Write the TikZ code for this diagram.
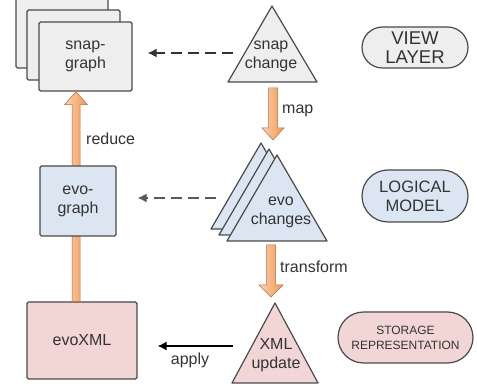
\documentclass[tikz,border=0pt]{standalone}
\usepackage{fontspec}
\setmainfont{Liberation Sans}
\usetikzlibrary{arrows.meta,calc,shapes.misc}
\definecolor{boxgray}{HTML}{EEEEEE}
\definecolor{boxblue}{HTML}{DCE6F2}
\definecolor{boxpink}{HTML}{F2D6D6}
\definecolor{edgec}{HTML}{4A4A4A}
\definecolor{textc}{HTML}{333333}
\definecolor{orangeL}{HTML}{FAD0B0}
\definecolor{orangeR}{HTML}{F09850}
\definecolor{orangeE}{HTML}{B87040}
\begin{document}
\begin{tikzpicture}[x=1pt,y=-1pt,
  box/.style={draw=edgec,line width=1.3pt,rounded corners=1.5pt,inner sep=0pt,align=center,
    text=textc,font=\fontsize{16}{19}\selectfont},
  tri/.style={draw=edgec,line width=1.2pt,line join=round},
  label/.style={inner sep=0pt,align=center,text=textc,font=\fontsize{16}{19}\selectfont},
  pill/.style={draw=edgec,line width=1.2pt,rounded rectangle,inner sep=0pt,align=center,
    text=textc,font=\fontsize{16.5}{19}\selectfont},
  blockarrow/.style={draw=orangeE,line width=0.5pt,left color=orangeL,right color=orangeR,shading angle=90},
  dasharrow/.style={draw=black!80,line width=1.3pt,dash pattern=on 11pt off 6pt,-{Latex[length=9pt,width=9pt]}},
  solidarrow/.style={draw=black,line width=1.2pt,-{Latex[length=9pt,width=9pt]}}]
\useasboundingbox (0,0) rectangle (477,387);
\fill[white] (0,0) rectangle (477,387);

% snap-graph stack
\node[box,fill=boxgray,minimum width=92pt,minimum height=70pt] (sg3) at (62,33) {};
\node[box,fill=boxgray,minimum width=93pt,minimum height=70pt] (sg2) at (73.5,45) {};
\node[box,fill=boxgray,minimum width=93pt,minimum height=69pt] (sg) at (85.5,56.5) {snap-\\graph};

% evoXML
\node[box,fill=boxpink,minimum width=110pt,minimum height=77pt] (evoxml) at (82,340.5) {evoXML};

% reduce block arrow (evoXML -> snap-graph)
\path (evoxml.north) ++(-6,0) coordinate (ra);
\path (sg.south) ++(-9.5,0) coordinate (rt);
\path[blockarrow] ($(ra)+(-4,0)$) -- ($(rt)+(-4,13)$) -- ($(rt)+(-11.5,13)$) -- (rt)
  -- ($(rt)+(11.5,13)$) -- ($(rt)+(4,13)$) -- ($(ra)+(4,0)$) -- cycle;

% evo-graph (on top of the arrow)
\node[box,fill=boxblue,minimum width=76pt,minimum height=70pt] (eg) at (78,201) {evo-\\graph};

\node[label,anchor=west] (lreduce) at (86,139) {reduce};

% snap change triangle
\path[tri,fill=boxgray] (272,6) -- (317,82) -- (228,82) -- cycle;
\node[label] (sc) at (271,56) {snap\\change};

% evo changes triangles
\path[tri,fill=boxblue] (261,143) -- (311,229) -- (211,229) -- cycle;
\path[tri,fill=boxblue] (269,149) -- (319,235) -- (219,235) -- cycle;
\path[tri,fill=boxblue] (277,155) -- (327,241) -- (227,241) -- cycle;
\node[label] (ec) at (281,212) {evo\\changes};

% XML update triangle
\path[tri,fill=boxpink] (275,303) -- (318,383) -- (232,383) -- cycle;
\node[label] (xu) at (276,355) {XML\\update};

% map block arrow
\coordinate (ma) at (273,88);
\coordinate (mt) at (273,140);
\path[blockarrow] ($(ma)+(-4.5,0)$) -- ($(mt)+(-4.5,-12)$) -- ($(mt)+(-11,-12)$) -- (mt)
  -- ($(mt)+(11,-12)$) -- ($(mt)+(4.5,-12)$) -- ($(ma)+(4.5,0)$) -- cycle;
\node[label,anchor=west] (lmap) at (282,111) {map};

% transform block arrow
\coordinate (ta) at (271,245);
\coordinate (tt) at (271,297);
\path[blockarrow] ($(ta)+(-4.5,0)$) -- ($(tt)+(-4.5,-12)$) -- ($(tt)+(-12,-12)$) -- (tt)
  -- ($(tt)+(12,-12)$) -- ($(tt)+(4.5,-12)$) -- ($(ta)+(4.5,0)$) -- cycle;
\node[label,anchor=west] (ltransform) at (280,267) {transform};

% dashed arrows
\coordinate (d1s) at (233,53);
\coordinate (d1e) at ($(sg.east|-d1s)+(15,0)$);
\draw[dasharrow] (d1s) -- (d1e);
\coordinate (d2s) at (216,198);
\coordinate (d2e) at ($(eg.east|-d2s)+(21,0)$);
\draw[dasharrow,draw=black!65] (d2s) -- (d2e);

% apply arrow
\coordinate (as) at (233,346);
\coordinate (ae) at ($(evoxml.east|-as)+(20,0)$);
\draw[solidarrow] (as) -- (ae);
\node[label] (lapply) at (190,360) {apply};

% layer pills
\node[pill,fill=boxgray,minimum width=106pt,minimum height=41pt,font=\fontsize{18.5}{19}\selectfont] (vl) at (415,47.5) {VIEW\\LAYER};
\node[pill,fill=boxblue,minimum width=106pt,minimum height=52pt] (lm) at (415,196) {LOGICAL\\MODEL};
\node[pill,fill=boxpink,minimum width=135pt,minimum height=51pt,font=\fontsize{12}{15}\selectfont] (sr) at (405.5,337.5) {STORAGE\\REPRESENTATION};
\end{tikzpicture}
\end{document}
